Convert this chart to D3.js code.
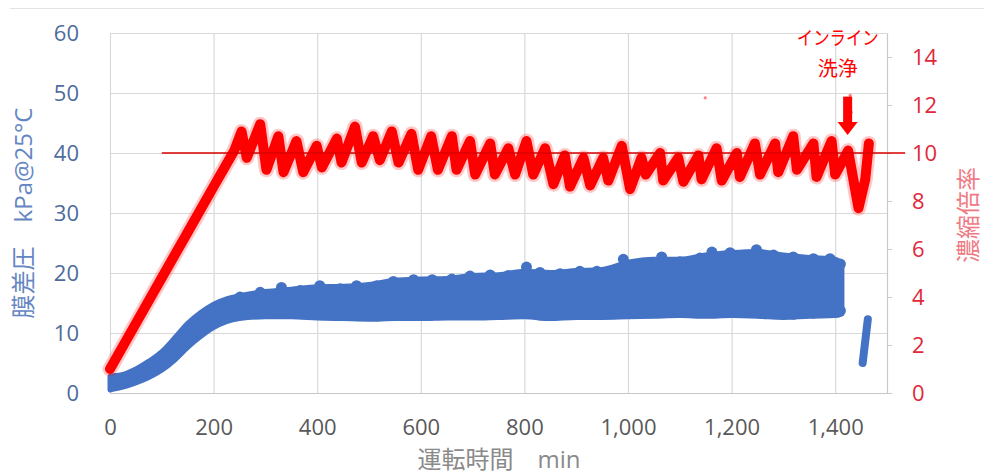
<!DOCTYPE html>
<html><head><meta charset="utf-8">
<script src="https://cdn.jsdelivr.net/npm/d3@7"></script>
<style>
html,body{margin:0;padding:0;background:#fff;}
svg{display:block;}
text{font-family:"Open Sans","Noto Sans","Noto Sans CJK JP",sans-serif;}
.cjk{font-family:"Open Sans","Noto Sans CJK JP",sans-serif;}
</style></head>
<body>
<svg id="chart" width="984" height="474"></svg>
<script>
// ---- data ----
const xTicks = [0, 200, 400, 600, 800, 1000, 1200, 1400];
const xTickLabels = ["0", "200", "400", "600", "800", "1,000", "1,200", "1,400"];
const leftTicks = [0, 10, 20, 30, 40, 50, 60];
const rightTicks = [0, 2, 4, 6, 8, 10, 12, 14];

// membrane differential pressure band (kPa @25°C): time, lower and upper edge
const dpTime = [0, 10, 25, 50, 75, 100, 125, 150, 175, 200, 225, 250, 300, 350, 400, 450, 500, 550, 600, 650, 700, 750, 800, 850, 900, 950, 1000, 1050, 1100, 1150, 1200, 1250, 1300, 1350, 1400, 1413];
const dpLow  = [0.5, 0.7, 1.0, 1.7, 2.6, 3.8, 5.5, 7.6, 9.4, 10.9, 11.9, 12.4, 12.7, 12.7, 12.5, 12.4, 12.3, 12.4, 12.4, 12.5, 12.5, 12.6, 12.7, 12.4, 12.6, 12.6, 12.7, 12.8, 12.9, 12.8, 12.9, 12.8, 12.6, 12.8, 12.9, 13.2];
const dpHigh = [2.8, 2.9, 3.1, 4.0, 5.3, 6.9, 9.2, 11.6, 13.4, 14.8, 15.7, 16.2, 16.9, 17.3, 17.7, 17.8, 18.1, 18.8, 19.0, 19.1, 19.6, 19.7, 20.3, 20.1, 20.4, 20.6, 21.8, 22.3, 22.3, 23.0, 23.4, 23.6, 23.0, 22.6, 22.3, 21.6];
// bumps on the top / bottom edge of the band
const dpBumpT = [251, 290, 331, 367, 405, 444, 476, 515, 547, 586, 622, 660, 695, 734, 769, 804, 830, 869, 907, 940, 972, 991, 1017, 1036, 1065, 1100, 1139, 1162, 1197, 1223, 1248, 1281, 1319, 1358, 1390, 1410];
const dpBumpV = [16.9, 17.7, 18.5, 18.0, 18.8, 18.3, 18.8, 18.8, 19.5, 19.8, 19.8, 19.9, 20.4, 20.6, 20.5, 21.9, 21.0, 20.8, 21.2, 21.2, 21.3, 23.2, 22.3, 22.4, 23.6, 22.8, 23.4, 24.4, 24.3, 23.8, 24.8, 23.9, 23.6, 23.3, 23.3, 22.4];
const dpLowBumpV = [12.3, 12.4, 12.4, 12.3, 12.2, 12.2, 12.1, 12.1, 12.0, 12.2, 12.1, 12.2, 12.2, 12.3, 12.3, 12.4, 12.1, 12.3, 12.3, 12.3, 12.4, 12.4, 12.5, 12.5, 12.6, 12.6, 12.5, 12.5, 12.6, 12.5, 12.5, 12.3, 12.2, 12.4, 12.5, 12.8];
// after in-line cleaning
const dp2Time = [1453, 1463];
const dp2Val  = [5.0, 12.3];

// concentration ratio (right axis): ramp, then sawtooth peaks/troughs
const crTime = [0, 50, 100, 150, 200, 240,
  254, 264, 290, 302, 325, 335, 360, 373, 399, 409, 438, 447, 473, 486, 508, 521, 544, 557, 582, 595, 620, 633,
  660, 669, 695, 705, 734, 743, 769, 782, 804, 817, 840, 856, 878, 888, 914, 927, 952, 962, 988, 1004, 1026, 1034,
  1062, 1068, 1097, 1107, 1136, 1142, 1171, 1181, 1210, 1216, 1245, 1255, 1284, 1290, 1319, 1326, 1358, 1364, 1393, 1400,
  1425, 1445, 1458, 1465];
const crVal = [1.0, 2.9, 4.8, 6.7, 8.6, 10.1,
  10.9, 9.8, 11.2, 9.3, 10.7, 9.2, 10.5, 9.2, 10.3, 9.4, 10.6, 9.6, 11.1, 9.6, 10.7, 9.7, 10.9, 9.6, 10.8, 9.3, 10.7, 9.3,
  10.7, 9.3, 10.5, 9.1, 10.4, 9.1, 10.2, 9.1, 10.5, 9.1, 10.2, 8.7, 9.9, 8.6, 9.8, 8.65, 9.8, 8.85, 10.3, 8.5, 9.8, 9.1,
  10.0, 8.85, 9.8, 8.8, 9.9, 8.9, 10.2, 8.85, 10.0, 9.0, 10.4, 9.1, 10.4, 9.2, 10.7, 9.3, 10.4, 9.0, 10.5, 9.1,
  10.1, 7.7, 8.9, 10.4];
const crOutT = [1149, 1429, 1431];
const crOutV = [12.3, 12.4, 11.7];

// target line and annotation
const targetRatio = 10;
const targetFrom = 100, targetTo = 1535;
const noteLines = ["インライン", "洗浄"];
const noteTime = 1405;
const arrowTime = 1424, arrowFrom = 12.35, arrowTo = 10.75;

// ---- drawing ----
const svg = d3.select("#chart");
const X0 = 110, X1 = 887, Y0 = 393, Y1 = 33;
const x = d3.scaleLinear().domain([0, 1500]).range([X0, X1]);
const yL = d3.scaleLinear().domain([0, 60]).range([Y0, Y1]);
const yR = d3.scaleLinear().domain([0, 15]).range([Y0, Y1]);

const blue = "#4472c4", red = "#ff0000";

// frame line at top
svg.append("line").attr("x1", 10).attr("x2", 984).attr("y1", 8.5).attr("y2", 8.5)
  .attr("stroke", "#e3e3e3").attr("stroke-width", 1);

// gridlines
const gH = svg.append("g").attr("transform", `translate(${X0},0)`)
  .call(d3.axisLeft(yL).tickValues(leftTicks).tickSize(-(X1 - X0)).tickFormat(""));
gH.select(".domain").remove();
gH.selectAll("line").attr("stroke", "#d9d9d9").attr("stroke-width", 1.2);
const gV = svg.append("g").attr("transform", `translate(0,${Y0})`)
  .call(d3.axisBottom(x).tickValues(xTicks).tickSize(-(Y0 - Y1)).tickFormat(""));
gV.select(".domain").remove();
gV.selectAll("line").attr("stroke", "#d9d9d9").attr("stroke-width", 1.2);

// bottom axis
const gx = svg.append("g").attr("transform", `translate(0,${Y0})`)
  .call(d3.axisBottom(x).tickValues(xTicks).tickSize(0).tickPadding(26)
    .tickFormat((d, i) => xTickLabels[i]));
gx.select(".domain").attr("stroke", "#c8c8c8").attr("stroke-width", 1.2);
gx.selectAll("text").attr("fill", "#595959").style("font-size", "22px");

// left axis labels
const gl = svg.append("g").attr("transform", `translate(${X0},0)`)
  .call(d3.axisLeft(yL).tickValues(leftTicks).tickSize(0).tickPadding(31));
gl.select(".domain").remove();
gl.selectAll("text").attr("fill", "#4e6b9c").style("font-size", "22px");

// right axis
const gr = svg.append("g").attr("transform", `translate(${X1},0)`)
  .call(d3.axisRight(yR).tickValues(rightTicks).tickSizeInner(5).tickSizeOuter(0).tickPadding(20));
gr.select(".domain").attr("stroke", "#c8c8c8").attr("stroke-width", 1.2);
gr.selectAll("line").attr("stroke", "#c8c8c8");
gr.selectAll("text").attr("fill", "#e0283a").style("font-size", "22px");

// ---- blue band ----
const bandData = dpTime.map((t, i) => ({t, lo: dpLow[i], hi: dpHigh[i]}));
const area = d3.area().x(d => x(d.t)).y0(d => yL(d.lo)).y1(d => yL(d.hi)).curve(d3.curveMonotoneX);
svg.append("path").datum(bandData).attr("d", area)
  .attr("fill", blue).attr("stroke", blue).attr("stroke-width", 5).attr("stroke-linejoin", "round");
const bumpR = 5.5;
const bumps = dpBumpT.map((t, i) => ({t, v: dpBumpV[i], lv: dpLowBumpV[i]}));
svg.append("g").selectAll("circle").data(bumps)
  .join("circle").attr("cx", d => x(d.t)).attr("cy", d => yL(d.v) + bumpR).attr("r", bumpR).attr("fill", blue);
svg.append("g").selectAll("circle").data(bumps)
  .join("circle").attr("cx", d => x(d.t)).attr("cy", d => yL(d.lv) - bumpR).attr("r", bumpR).attr("fill", blue);
svg.append("path").datum(dp2Time.map((t, i) => ({t, v: dp2Val[i]})))
  .attr("d", d3.line().x(d => x(d.t)).y(d => yL(d.v)))
  .attr("stroke", blue).attr("stroke-width", 8).attr("stroke-linecap", "round").attr("fill", "none");

// ---- red sawtooth ----
const crData = crTime.map((t, i) => ({t, v: crVal[i]}));
const crLine = d3.line().x(d => x(d.t)).y(d => yR(d.v));
svg.append("path").datum(crData).attr("d", crLine)
  .attr("fill", "none").attr("stroke", red).attr("stroke-opacity", 0.22)
  .attr("stroke-width", 15).attr("stroke-linejoin", "round").attr("stroke-linecap", "round");
svg.append("path").datum(crData).attr("d", crLine)
  .attr("fill", "none").attr("stroke", red)
  .attr("stroke-width", 10).attr("stroke-linejoin", "round").attr("stroke-linecap", "round");
svg.append("g").selectAll("circle").data(crOutT.map((t, i) => ({t, v: crOutV[i]})))
  .join("circle").attr("cx", d => x(d.t)).attr("cy", d => yR(d.v)).attr("r", 1.6)
  .attr("fill", red).attr("opacity", 0.5);

// target line
svg.append("line").attr("x1", x(targetFrom)).attr("x2", x(targetTo))
  .attr("y1", yR(targetRatio)).attr("y2", yR(targetRatio))
  .attr("stroke", "#d80000").attr("stroke-width", 1.3);

// annotation
const note = svg.append("g");
note.append("text").attr("class", "cjk").attr("x", x(noteTime)).attr("y", 45)
  .attr("text-anchor", "middle").attr("fill", red).style("font-size", "19px")
  .attr("textLength", 82).attr("lengthAdjust", "spacingAndGlyphs").text(noteLines[0]);
note.append("text").attr("class", "cjk").attr("x", x(noteTime)).attr("y", 76)
  .attr("text-anchor", "middle").attr("fill", red).style("font-size", "20px").text(noteLines[1]);
const ax = x(arrowTime), ayTop = yR(arrowFrom), ayTip = yR(arrowTo);
note.append("rect").attr("x", ax - 4.5).attr("y", ayTop).attr("width", 9).attr("height", (ayTip - ayTop) - 12)
  .attr("fill", red);
note.append("path").attr("d", `M${ax - 10},${ayTip - 13}L${ax + 10},${ayTip - 13}L${ax},${ayTip}Z`).attr("fill", red);

// axis titles
svg.append("text").attr("class", "cjk").attr("transform", "translate(32,213) rotate(-90)")
  .attr("text-anchor", "middle").attr("fill", "#6586c2").style("font-size", "24px")
  .text("膜差圧　kPa@25°C");
svg.append("text").attr("class", "cjk").attr("transform", "translate(977,215) rotate(-90)")
  .attr("text-anchor", "middle").attr("fill", "#f07a84").style("font-size", "24px")
  .text("濃縮倍率");
svg.append("text").attr("class", "cjk").attr("x", 499).attr("y", 468)
  .attr("text-anchor", "middle").attr("fill", "#8a8a8a").style("font-size", "24px")
  .text("運転時間　min");
</script>
</body></html>
